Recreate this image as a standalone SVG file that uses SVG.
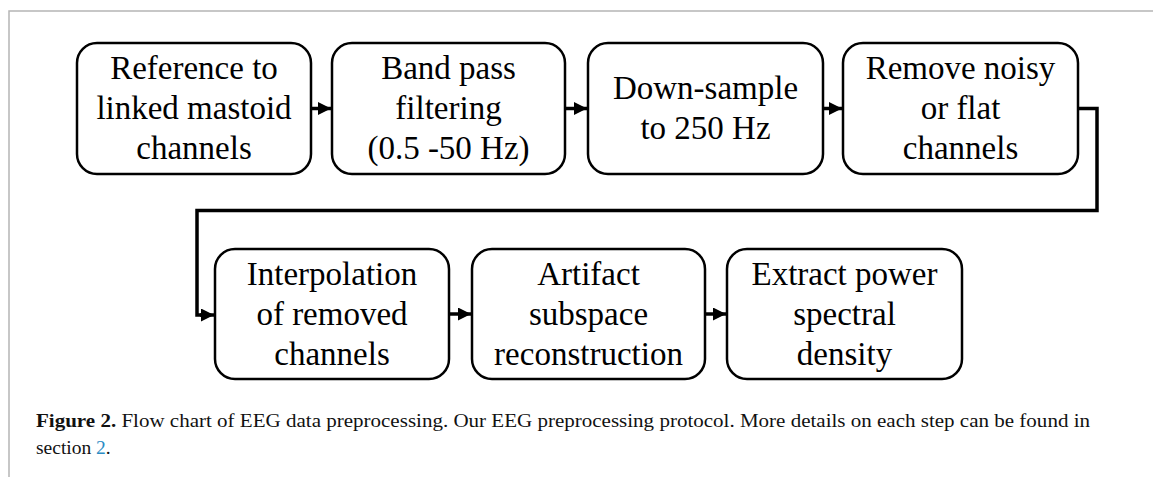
<svg xmlns="http://www.w3.org/2000/svg" width="1153" height="477" viewBox="0 0 1153 477">
<style>
.box{fill:#fff;stroke:#000;stroke-width:2.5}
.t{font-family:"Liberation Serif","Times New Roman",serif;font-size:33px;text-anchor:middle;fill:#000}
.c{stroke:#000;stroke-width:3.5;fill:none}
.cap{font-family:"Liberation Serif","Times New Roman",serif;font-size:19.5px;fill:#111}
.frame{stroke:#b5b5b5;stroke-width:1.5;fill:none}
</style>
<defs>
<marker id="ah" viewBox="0 0 13 13" refX="13" refY="6.5" markerWidth="13" markerHeight="13" markerUnits="userSpaceOnUse" orient="auto">
<path d="M0,0 L13,6.5 L0,13 Z" fill="#000"/>
</marker>
</defs>
<rect width="1153" height="477" fill="#fff"/>
<path class="frame" d="M9,477 L9,11 L1153,11"/>
<g id="n1"><rect class="box" x="77" y="43" width="234" height="131" rx="20"/>
<text class="t" x="194" y="79">Reference to</text><text class="t" x="194" y="119">linked mastoid</text><text class="t" x="194" y="159">channels</text></g>
<g id="n2"><rect class="box" x="332" y="43" width="233" height="131" rx="20"/>
<text class="t" x="448.5" y="79">Band pass</text><text class="t" x="448.5" y="119">filtering</text><text class="t" x="448.5" y="159">(0.5 -50 Hz)</text></g>
<g id="n3"><rect class="box" x="588" y="43" width="235" height="131" rx="20"/>
<text class="t" x="705.5" y="99">Down-sample</text><text class="t" x="705.5" y="139">to 250 Hz</text></g>
<g id="n4"><rect class="box" x="843" y="43" width="235" height="131" rx="20"/>
<text class="t" x="960.5" y="79">Remove noisy</text><text class="t" x="960.5" y="119">or flat</text><text class="t" x="960.5" y="159">channels</text></g>
<g id="n5"><rect class="box" x="215" y="249" width="234" height="130" rx="20"/>
<text class="t" x="332" y="285">Interpolation</text><text class="t" x="332" y="325">of removed</text><text class="t" x="332" y="365">channels</text></g>
<g id="n6"><rect class="box" x="472" y="249" width="233" height="130" rx="20"/>
<text class="t" x="588.5" y="285">Artifact</text><text class="t" x="588.5" y="325">subspace</text><text class="t" x="588.5" y="365">reconstruction</text></g>
<g id="n7"><rect class="box" x="727" y="249" width="235" height="130" rx="20"/>
<text class="t" x="844.5" y="285">Extract power</text><text class="t" x="844.5" y="325">spectral</text><text class="t" x="844.5" y="365">density</text></g>
<g id="connectors">
<path class="c" d="M311,108.5 L331,108.5" marker-end="url(#ah)"/>
<path class="c" d="M565,108.5 L587,108.5" marker-end="url(#ah)"/>
<path class="c" d="M823,108.5 L842,108.5" marker-end="url(#ah)"/>
<path class="c" stroke-width="4.5" d="M1078,108.5 L1097,108.5 L1097,210.5 L197,210.5 L197,315 L204,315"/>
<path class="c" d="M200,315 L214,315" marker-end="url(#ah)"/>
<path class="c" d="M449,314 L471,314" marker-end="url(#ah)"/>
<path class="c" d="M705,314 L726,314" marker-end="url(#ah)"/>
</g>
<text class="cap" x="36" y="427" textLength="1054" lengthAdjust="spacingAndGlyphs"><tspan font-weight="bold">Figure 2.</tspan> Flow chart of EEG data preprocessing. Our EEG preprocessing protocol. More details on each step can be found in</text>
<text class="cap" x="36" y="454">section <tspan fill="#2a8bc4">2</tspan>.</text>
</svg>
